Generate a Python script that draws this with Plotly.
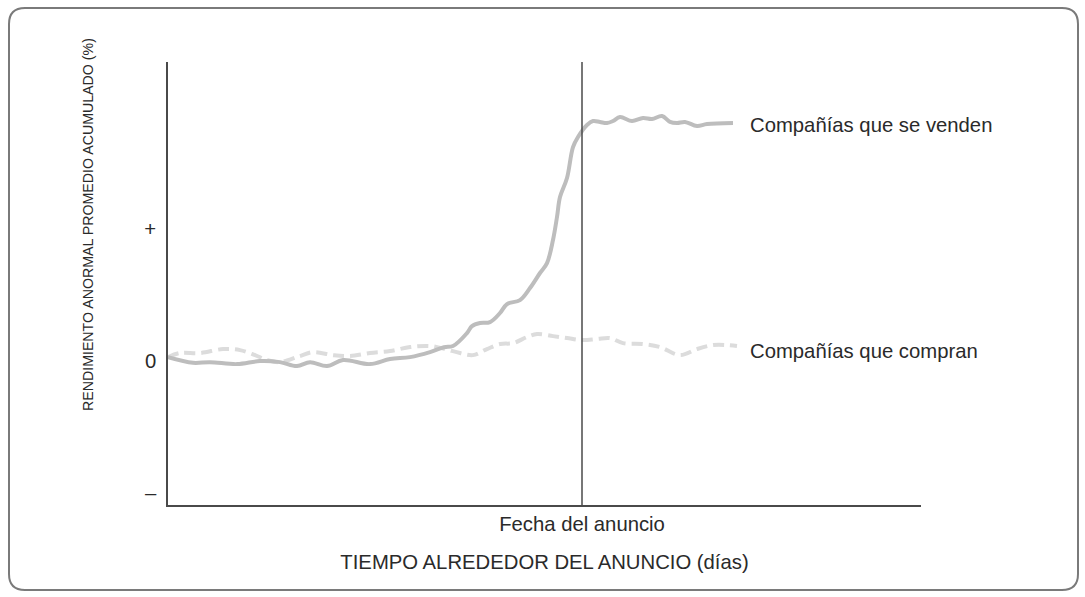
import plotly.graph_objects as go

# ---- data (days relative to announcement, cumulative abnormal return units) ----
sell_days = [-103.5, -97.25, -93, -86.25, -80.5, -75.5, -71.25, -68, -63.75, -59.75,
             -53, -48, -43, -38, -34.5, -32.25, -28.75, -27.5, -25.5, -23, -20.5,
             -18.75, -15.5, -13, -10.5, -8.75, -7.25, -6.25, -5.5, -3.75, -2.25, -1,
             1.25, 2.75, 4.5, 6.25, 7.75, 9.5, 12.5, 15.25, 17.5, 20, 22, 23.75,
             25.75, 28.75, 31.25, 37.75]
sell_vals = [0.30, -0.13, -0.08, -0.23, 0.0, -0.08, -0.38, -0.08, -0.38, 0.08,
             -0.23, 0.15, 0.30, 0.68, 1.05, 1.14, 2.12, 2.65, 2.88, 2.95, 3.64,
             4.32, 4.62, 5.53, 6.67, 7.42, 9.17, 10.91, 12.42, 13.86, 16.21, 16.97,
             17.88, 18.18, 18.11, 18.03, 18.18, 18.48, 18.18, 18.41, 18.33, 18.56, 18.11, 18.03,
             18.11, 17.80, 17.95, 18.03]

buy_days = [-103.5, -100.5, -95.5, -89.75, -85.5, -81.75, -78.75, -75.5, -70.5, -67.25,
            -62.25, -58, -53, -48, -43, -38, -34.25, -30.5, -27.25, -23.75, -20.5,
            -17.25, -13.75, -11.25, -7.25, -3.75, 0, 3.75, 7, 10.25, 15.25, 19.5,
            24.5, 28.75, 32.75, 36.25, 38.75]
buy_vals = [0.30, 0.61, 0.61, 0.91, 0.83, 0.45, 0.08, -0.08, 0.38, 0.68,
            0.45, 0.38, 0.61, 0.76, 1.06, 1.14, 0.91, 0.61, 0.45, 0.91, 1.29,
            1.36, 1.82, 2.05, 1.89, 1.74, 1.59, 1.67, 1.74, 1.36, 1.29, 1.06,
            0.45, 0.91, 1.21, 1.21, 1.14]

y_tickvals = [-10, 0, 10]
y_ticktext = ["–", "0", "+"]
x_tickvals = [0]
x_ticktext = ["Fecha del anuncio"]

sell_label = "Compañías que se venden"
buy_label = "Compañías que compran"
x_title = "TIEMPO ALREDEDOR DEL ANUNCIO (días)"
y_title = "RENDIMIENTO ANORMAL PROMEDIO ACUMULADO (%)"

X_RANGE = [-103.5, 84.75]
Y_RANGE = [-10.9, 22.65]

W, H = 1085, 597
ML, MR, MT, MB = 168, 164, 62, 92
PW, PH = W - ML - MR, H - MT - MB

FONT = "Liberation Sans"
TXT = "#2a2a2a"
FS = 20.3

def px(xp):
    return (xp - ML) / PW

def py(yp):
    return (H - MB - yp) / PH

fig = go.Figure()
fig.add_trace(go.Scatter(x=buy_days, y=buy_vals, mode="lines", line_shape="spline",
                         line=dict(color="#dcdcdc", width=4, dash="11px,6px"),
                         hoverinfo="skip"))
fig.add_trace(go.Scatter(x=sell_days, y=sell_vals, mode="lines", line_shape="spline",
                         line=dict(color="#bdbdbd", width=4), hoverinfo="skip"))

# announcement vertical line
fig.add_shape(type="line", xref="x", yref="paper", x0=0, x1=0, y0=0, y1=1,
              line=dict(color="#4a4a4a", width=1.5), layer="above")

# rounded border
l, r, t, b, rad = 9, 1078, 8, 590, 16
path = (f"M {px(l+rad)},{py(t)} L {px(r-rad)},{py(t)} Q {px(r)},{py(t)} {px(r)},{py(t+rad)} "
        f"L {px(r)},{py(b-rad)} Q {px(r)},{py(b)} {px(r-rad)},{py(b)} "
        f"L {px(l+rad)},{py(b)} Q {px(l)},{py(b)} {px(l)},{py(b-rad)} "
        f"L {px(l)},{py(t+rad)} Q {px(l)},{py(t)} {px(l+rad)},{py(t)} Z")
fig.add_shape(type="path", xref="paper", yref="paper", path=path,
              line=dict(color="#7a7a7a", width=2))

fig.add_annotation(x=41.5, y=17.9, xref="x", yref="y", text=sell_label, showarrow=False,
                   xanchor="left", yanchor="middle", font=dict(family=FONT, size=FS, color=TXT))
fig.add_annotation(x=41.5, y=0.8, xref="x", yref="y", text=buy_label, showarrow=False,
                   xanchor="left", yanchor="middle", font=dict(family=FONT, size=FS, color=TXT))
fig.add_annotation(x=px(88), y=py(225), xref="paper", yref="paper", text=y_title,
                   showarrow=False, textangle=-90, xanchor="center", yanchor="middle",
                   font=dict(family=FONT, size=14.2, color=TXT))

fig.update_layout(
    width=W, height=H, margin=dict(l=ML, r=MR, t=MT, b=MB),
    paper_bgcolor="white", plot_bgcolor="white", showlegend=False,
    font=dict(family=FONT, color=TXT),
    xaxis=dict(range=X_RANGE, showgrid=False, zeroline=False, showline=True,
               linecolor="#4a4a4a", linewidth=1.5, tickvals=x_tickvals, ticktext=x_ticktext,
               ticks="", ticklabelstandoff=0, tickfont=dict(family=FONT, size=FS, color=TXT),
               title=dict(text=x_title, standoff=21, font=dict(family=FONT, size=FS, color=TXT)),
               fixedrange=True),
    yaxis=dict(range=Y_RANGE, showgrid=False, zeroline=False, showline=True,
               linecolor="#4a4a4a", linewidth=1.5, tickvals=y_tickvals, ticktext=y_ticktext,
               ticks="", ticklabelstandoff=6, tickfont=dict(family=FONT, size=FS, color=TXT),
               fixedrange=True),
)

fig.write_html("out.html", config={"displayModeBar": False},
               post_script="document.body.style.margin='0';")
